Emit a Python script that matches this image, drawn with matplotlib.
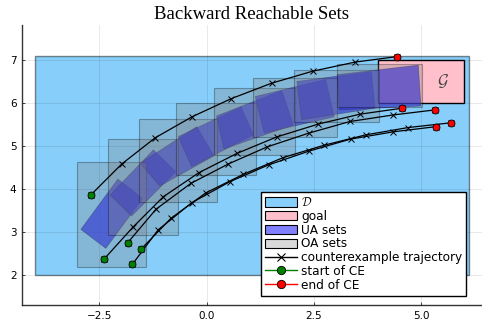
import matplotlib
matplotlib.use('Agg')
from matplotlib import pyplot as plt
from matplotlib.patches import Rectangle, Polygon, Patch
from matplotlib.lines import Line2D
import numpy as np

plt.rcParams['mathtext.fontset'] = 'cm'

# domain and goal boxes: (xmin, xmax, ymin, ymax)
domain_box = [-4.0, 6.1, 2.0, 7.1]
goal_box = [4.0, 6.0, 6.0, 7.0]

# over-approximation boxes (one per step)
oa_xmin = [-3.03, -2.31, -1.58, -0.71, 0.17, 1.07, 2.04, 3.04]
oa_xmax = [-1.42, -0.66, 0.23, 1.14, 2.06, 3.03, 4.02, 5.01]
oa_ymin = [2.19, 2.93, 3.69, 4.33, 4.79, 5.22, 5.55, 5.91]
oa_ymax = [4.63, 5.16, 5.63, 6.01, 6.34, 6.57, 6.77, 6.91]

# under-approximation quads: start edge (upper, lower) and end edge (upper, lower)
ua_start_up = [(-2.93, 3.06), (-2.25, 3.86), (-1.55, 4.60), (-0.66, 5.22),
               (0.23, 5.70), (1.13, 6.15), (2.10, 6.50), (3.04, 6.66)]
ua_start_lo = [(-2.35, 2.62), (-1.75, 3.37), (-1.09, 4.07), (-0.35, 4.52),
               (0.40, 4.93), (1.34, 5.30), (2.21, 5.61), (3.09, 5.84)]
ua_end_up = [(-2.07, 4.23), (-1.24, 4.91), (-0.23, 5.45), (0.80, 5.91),
             (1.75, 6.29), (2.77, 6.55), (3.84, 6.73), (4.93, 6.88)]
ua_end_lo = [(-1.49, 3.78), (-0.72, 4.40), (0.17, 4.77), (1.09, 5.26),
             (2.02, 5.49), (2.97, 5.68), (3.92, 5.88), (4.99, 5.93)]

# counterexample trajectories
traj_x = [
    [-2.70, -1.98, -1.20, -0.34, 0.57, 1.51, 2.47, 3.45, 4.44],
    [-2.39, -1.72, -1.01, -0.18, 0.71, 1.63, 2.60, 3.57, 4.56],
    [-1.84, -1.18, -0.37, 0.50, 1.41, 2.38, 3.34, 4.33, 5.32],
    [-1.73, -1.13, -0.35, 0.54, 1.44, 2.38, 3.35, 4.35, 5.34],
    [-1.53, -0.83, -0.02, 0.85, 1.78, 2.74, 3.71, 4.70, 5.69],
]
traj_y = [
    [3.86, 4.58, 5.19, 5.68, 6.10, 6.46, 6.74, 6.95, 7.08],
    [2.37, 3.11, 3.82, 4.38, 4.83, 5.21, 5.51, 5.74, 5.88],
    [2.75, 3.53, 4.13, 4.58, 4.98, 5.30, 5.57, 5.72, 5.84],
    [2.25, 3.05, 3.68, 4.17, 4.56, 4.88, 5.16, 5.33, 5.45],
    [2.60, 3.32, 3.91, 4.34, 4.73, 5.02, 5.26, 5.43, 5.54],
]

xticks = [-2.5, 0.0, 2.5, 5.0]
xticklabels = ['\u22122.5', '0.0', '2.5', '5.0']
yticks = [2, 3, 4, 5, 6, 7]

fig = plt.figure(figsize=(4.82, 3.29), dpi=100)
ax = fig.add_axes([22 / 482, 1 - 305 / 329, 460 / 482, 280 / 329])

d_col = '#87cefa'
goal_col = '#ffc0cb'

ax.add_patch(Rectangle((domain_box[0], domain_box[2]), domain_box[1] - domain_box[0],
                       domain_box[3] - domain_box[2], facecolor=d_col,
                       edgecolor=(0, 0, 0, 0.45), lw=1.0, zorder=1))
ax.add_patch(Rectangle((goal_box[0], goal_box[2]), goal_box[1] - goal_box[0],
                       goal_box[3] - goal_box[2], facecolor=goal_col,
                       edgecolor='black', lw=1.0, zorder=2))
ax.text((goal_box[0] + goal_box[1]) / 2 + 0.5, (goal_box[2] + goal_box[3]) / 2,
        r'$\mathcal{G}$', fontsize=12, ha='center', va='center', color='#444444', zorder=3)

for a, b, c, d in zip(ua_start_up, ua_end_up, ua_end_lo, ua_start_lo):
    ax.add_patch(Polygon([a, b, c, d], closed=True, facecolor=(0.05, 0.05, 0.95, 0.62),
                         edgecolor=(0, 0, 0, 0.35), lw=0.6, zorder=3))

for x0, x1, y0, y1 in zip(oa_xmin, oa_xmax, oa_ymin, oa_ymax):
    ax.add_patch(Rectangle((x0, y0), x1 - x0, y1 - y0, facecolor=(0.5, 0.5, 0.5, 0.3),
                           edgecolor=(0, 0, 0, 0.3), lw=0.8, zorder=4))

for tx, ty in zip(traj_x, traj_y):
    ax.plot(tx, ty, color='black', lw=0.9, marker='x', ms=4.5, mew=0.7, zorder=5)
    ax.plot(tx[0], ty[0], 'o', color='#008000', mec='black', mew=0.6, ms=5, zorder=6)
    ax.plot(tx[-1], ty[-1], 'o', color='red', mec='black', mew=0.6, ms=5, zorder=6)

ax.set_xlim(-4.302, 6.413)
ax.set_ylim(1.302, 7.814)
ax.set_xticks(xticks)
ax.set_xticklabels(xticklabels)
ax.set_yticks(yticks)
ax.tick_params(labelsize=7.5, length=2, direction='in', width=0.5, pad=4)
ax.grid(True, color='black', alpha=0.1, lw=0.6)
ax.set_axisbelow(False)
for s in ['top', 'right']:
    ax.spines[s].set_visible(False)
for s in ['left', 'bottom']:
    ax.spines[s].set_color('#333333')
    ax.spines[s].set_linewidth(1.0)

ax.set_title('Backward Reachable Sets', fontsize=13.5, family='Liberation Serif', pad=4)

handles = [
    Patch(facecolor=d_col, edgecolor='black', lw=0.8),
    Patch(facecolor=goal_col, edgecolor='black', lw=0.8),
    Patch(facecolor='#8080ff', edgecolor='black', lw=0.8),
    Patch(facecolor='#d9d9d9', edgecolor='black', lw=0.8),
    Line2D([], [], color='black', lw=1.0, marker='x', ms=6, mew=0.8),
    Line2D([], [], color='#008000', lw=1.0, marker='o', mfc='#008000', mec='black', mew=0.6, ms=6),
    Line2D([], [], color='red', lw=1.0, marker='o', mfc='red', mec='black', mew=0.6, ms=6),
]
labels = [r'$\mathcal{D}$', 'goal', 'UA sets', 'OA sets', 'counterexample trajectory',
          'start of CE', 'end of CE']
leg = ax.legend(handles, labels, loc='lower right', bbox_to_anchor=(0.966, 0.033),
                borderaxespad=0, fontsize=8.7, handlelength=2.6, handleheight=0.8,
                handletextpad=0.35, labelspacing=0.06, borderpad=0.35, fancybox=False,
                framealpha=1, edgecolor='black')
leg.get_frame().set_linewidth(1.0)
leg.set_zorder(10)

fig.savefig('out.png', dpi=100)
